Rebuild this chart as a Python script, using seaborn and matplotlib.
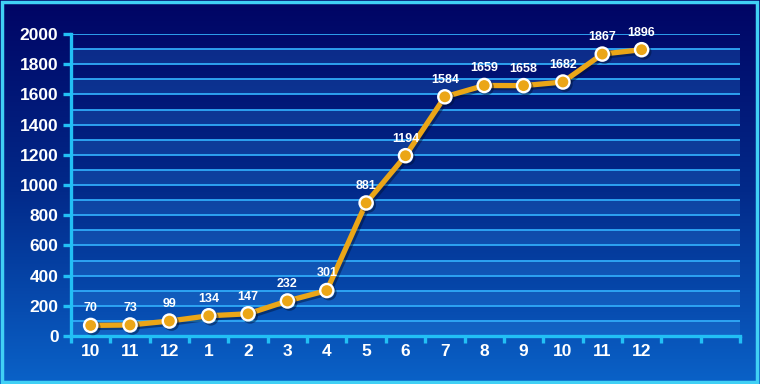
import numpy as np
import pandas as pd
import matplotlib
matplotlib.use("Agg")
import matplotlib.pyplot as plt
import matplotlib.patheffects as pe
from matplotlib.colors import LinearSegmentedColormap
from matplotlib.patches import Rectangle
import seaborn as sns

months = ["10", "11", "12", "1", "2", "3", "4", "5", "6", "7", "8", "9", "10", "11", "12"]
values = [70, 73, 99, 134, 147, 232, 301, 881, 1194, 1584, 1659, 1658, 1682, 1867, 1896]
n_slots = 17
y_ticks = [0, 200, 400, 600, 800, 1000, 1200, 1400, 1600, 1800, 2000]

sns.set_theme(style="white")
plt.rcParams['font.family'] = ['Liberation Sans', 'DejaVu Sans']

fig = plt.figure(figsize=(7.6, 3.84), dpi=100)

# background gradient
bg = fig.add_axes([0, 0, 1, 1], zorder=0)
cmap = LinearSegmentedColormap.from_list("bg", ["#000464", "#022a8a", "#0a62c8"])
grad = np.linspace(0, 1, 256).reshape(-1, 1)
bg.imshow(grad, aspect="auto", cmap=cmap, extent=[0, 1, 0, 1], origin="upper")
bg.set_axis_off()

ax = fig.add_axes([71 / 760, 1 - 336 / 384, (740 - 71) / 760, (336 - 34) / 384], zorder=1)
ax.patch.set_alpha(0)

# alternating bands and gridlines
for k in range(0, 2000, 200):
    ax.axhspan(k, k + 100, color="#40a8ff", alpha=0.2, lw=0, zorder=0)
for k in range(100, 2001, 100):
    ax.axhline(k, color="#30aaf8", lw=1.3, zorder=1)

df = pd.DataFrame({"pos": np.arange(len(values)), "val": values})
sns.lineplot(data=df, x="pos", y="val", ax=ax, color="#eba617", lw=3.8,
             marker="o", markersize=9.5, markerfacecolor="#eba617",
             markeredgecolor="white", markeredgewidth=1.7, zorder=5,
             path_effects=[pe.SimpleLineShadow(offset=(1.5, -1.5), alpha=0.45, shadow_color="#001030"), pe.Normal()])

for x, v in zip(df["pos"], values):
    ax.annotate(str(v), (x, v), xytext=(0, 8), textcoords="offset points",
                ha="center", va="bottom", color="white", fontsize=9,
                fontweight="bold", zorder=6)

ax.set_xlim(-0.5, n_slots - 0.5)
ax.set_ylim(0, 2000)
ax.set_xticks(np.arange(len(months)))
ax.set_xticklabels(months)
ax.set_xticks(np.arange(-0.5, n_slots, 1), minor=True)
ax.set_yticks(y_ticks)
ax.set_yticklabels([str(t) for t in y_ticks])
ax.set_xlabel("")
ax.set_ylabel("")

for s in ["top", "right"]:
    ax.spines[s].set_visible(False)
for s in ["left", "bottom"]:
    ax.spines[s].set_color("#22c0f5")
    ax.spines[s].set_linewidth(2.4)
    ax.spines[s].set_zorder(3)

ax.tick_params(axis="x", which="major", length=0, pad=6, labelsize=12.5,
               labelcolor="white")
ax.tick_params(axis="x", which="minor", length=5, width=2.4, color="#22c0f5",
               direction="out", bottom=True)
ax.tick_params(axis="y", length=6, width=2.4, color="#22c0f5", direction="out",
               left=True, pad=3, labelsize=12.5, labelcolor="white")
for lab in ax.get_xticklabels() + ax.get_yticklabels():
    lab.set_fontweight("bold")

# figure frame
fig.patches.append(Rectangle((0.002, 0.004), 0.994, 0.99, transform=fig.transFigure,
                             fill=False, edgecolor="#40d0f5", lw=2.5, zorder=10))

fig.savefig("out.png", dpi=100)
